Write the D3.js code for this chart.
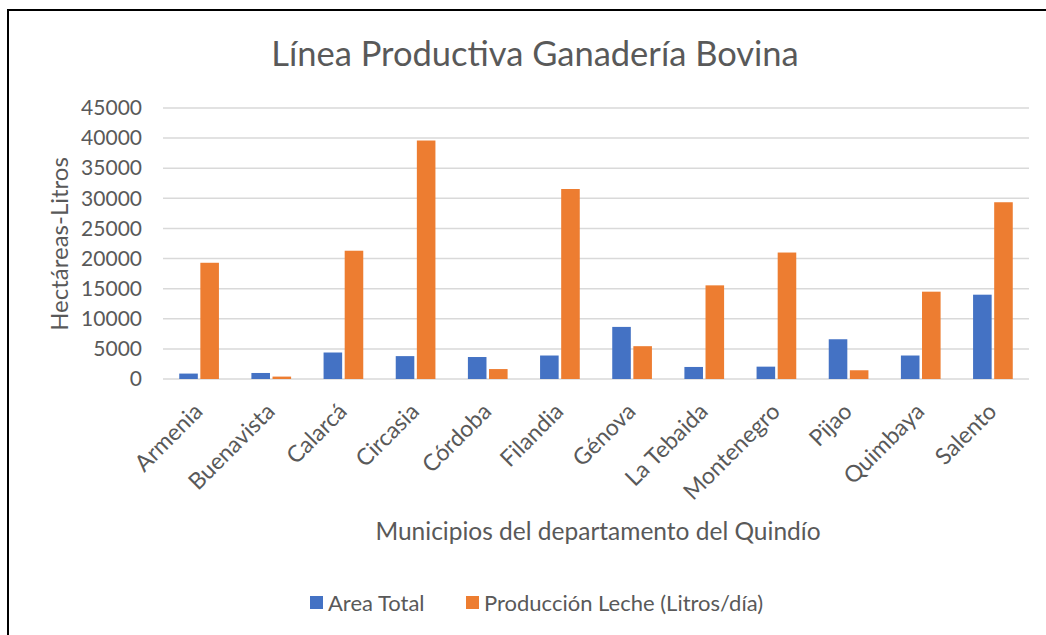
<!DOCTYPE html>
<html>
<head>
<meta charset="utf-8">
<script src="https://cdn.jsdelivr.net/npm/d3@7"></script>
<style>
  body { margin: 0; background: #fff; }
  text { font-family: Lato, "Open Sans", sans-serif; fill: #595959; }
</style>
</head>
<body>
<div id="chart"></div>
<script>
// municipios
const municipios = ["Armenia", "Buenavista", "Calarcá", "Circasia", "Córdoba", "Filandia",
  "Génova", "La Tebaida", "Montenegro", "Pijao", "Quimbaya", "Salento"];
// Area Total (hectáreas)
const areaTotal = [900, 1000, 4400, 3800, 3650, 3900, 8650, 2000, 2050, 6600, 3900, 14000];
// Producción Leche (Litros/día)
const produccionLeche = [19300, 400, 21300, 39600, 1650, 31550, 5450, 15550, 21000, 1450, 14500, 29350];
const yTicks = [0, 5000, 10000, 15000, 20000, 25000, 30000, 35000, 40000, 45000];
const seriesNames = ["Area Total", "Producción Leche (Litros/día)"];
const colors = ["#4472c4", "#ed7d31"];

const width = 1046, height = 635;
const margin = { left: 163, right: 17, top: 108, bottom: 256 };

const svg = d3.select("#chart").append("svg")
  .attr("width", width)
  .attr("height", height);

// marco del gráfico
svg.append("rect")
  .attr("x", 8).attr("y", 10)
  .attr("width", width + 10).attr("height", height + 10)
  .attr("fill", "#fff")
  .attr("stroke", "#000")
  .attr("stroke-width", 2);

const x = d3.scaleBand()
  .domain(municipios)
  .range([margin.left, width - margin.right])
  .paddingInner(0.45)
  .paddingOuter(0.225);

const xSub = d3.scaleBand()
  .domain([0, 1])
  .range([0, x.bandwidth()])
  .paddingInner(0.12);

const y = d3.scaleLinear()
  .domain([0, 45000])
  .range([379, 108]);

// gridlines
svg.append("g")
  .selectAll("line")
  .data(yTicks)
  .join("line")
    .attr("x1", margin.left)
    .attr("x2", width - margin.right)
    .attr("y1", d => y(d))
    .attr("y2", d => y(d))
    .attr("stroke", "#d9d9d9")
    .attr("stroke-width", 1.5);

// eje Y
const yAxis = svg.append("g")
  .attr("transform", `translate(${margin.left - 21},0)`)
  .call(d3.axisLeft(y).tickValues(yTicks).tickFormat(d3.format("d")).tickSize(0).tickPadding(0));
yAxis.select(".domain").remove();
yAxis.selectAll("text")
  .attr("font-size", 21)
  .attr("fill", "#595959")
  .style("font-family", "Lato, sans-serif");

// barras
const rows = municipios.map((m, i) => ({ m, vals: [areaTotal[i], produccionLeche[i]] }));
const groups = svg.append("g")
  .selectAll("g")
  .data(rows)
  .join("g")
    .attr("transform", d => `translate(${x(d.m)},0)`);

groups.selectAll("rect")
  .data(d => d.vals.map((v, k) => ({ v, k })))
  .join("rect")
    .attr("x", d => xSub(d.k))
    .attr("width", xSub.bandwidth())
    .attr("y", d => y(d.v))
    .attr("height", d => y(0) - y(d.v))
    .attr("fill", d => colors[d.k]);

// etiquetas eje X
const xAxis = svg.append("g")
  .attr("transform", `translate(0,${y(0)})`)
  .call(d3.axisBottom(x).tickSize(0).tickPadding(0));
xAxis.select(".domain").remove();
xAxis.selectAll("text")
  .attr("font-size", 23)
  .attr("fill", "#595959")
  .attr("text-anchor", "end")
  .attr("dy", 0)
  .attr("transform", "translate(5,34) rotate(-45)")
  .style("font-family", "Lato, sans-serif");

// título
svg.append("text")
  .attr("x", 535).attr("y", 66)
  .attr("text-anchor", "middle")
  .attr("font-size", 34.5)
  .text("Línea Productiva Ganadería Bovina");

// título eje Y
svg.append("text")
  .attr("transform", "translate(68,244) rotate(-90)")
  .attr("text-anchor", "middle")
  .attr("font-size", 24)
  .text("Hectáreas-Litros");

// título eje X
svg.append("text")
  .attr("x", 598).attr("y", 540)
  .attr("text-anchor", "middle")
  .attr("font-size", 24.5)
  .text("Municipios del departamento del Quindío");

// leyenda
const legendX = [310, 466];
const legend = svg.append("g")
  .selectAll("g")
  .data(seriesNames)
  .join("g")
    .attr("transform", (d, i) => `translate(${legendX[i]},603)`);
legend.append("rect")
  .attr("x", 0).attr("y", -7)
  .attr("width", 13).attr("height", 13)
  .attr("fill", (d, i) => colors[i]);
legend.append("text")
  .attr("x", 18).attr("y", 8)
  .attr("font-size", 22)
  .text(d => d);
</script>
</body>
</html>
